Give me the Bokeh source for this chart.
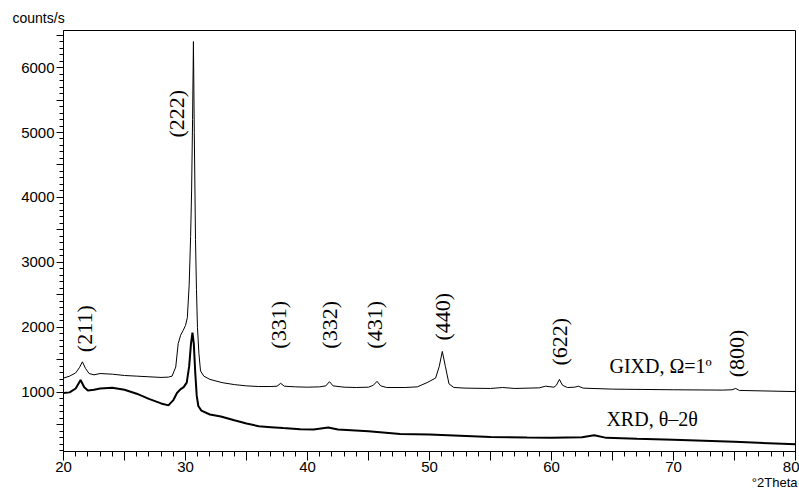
from math import pi
from bokeh.plotting import figure
from bokeh.models import Label, FixedTicker, Range1d, Title
from bokeh.embed import file_html
from bokeh.resources import INLINE

# ---- data ----
gixd_2theta = [20.0, 20.5, 21.0, 21.3, 21.55, 21.8, 22.1, 22.5, 23.0, 24.0, 25.0, 26.0, 27.0, 28.0,
               28.6, 28.9, 29.2, 29.4, 29.6, 29.8, 30.0, 30.15, 30.3, 30.42, 30.5, 30.58, 30.65,
               30.72, 30.82, 30.9, 30.98, 31.1, 31.23, 31.5, 32.0, 33.0, 34.0, 35.0, 36.0, 37.0,
               37.5, 37.8, 38.1, 39.0, 40.0, 41.0, 41.5, 41.8, 42.1, 43.0, 44.0, 45.0, 45.4, 45.7,
               46.0, 46.5, 48.0, 49.0, 49.8, 50.5, 50.8, 51.05, 51.3, 51.6, 52.0, 53.0, 55.0, 56.0,
               57.0, 59.0, 59.5, 60.2, 60.4, 60.65, 60.9, 61.3, 61.9, 62.2, 62.6, 65.0, 70.0, 74.0,
               74.8, 75.1, 75.4, 78.0, 80.0]
gixd_counts = [1220, 1250, 1300, 1380, 1470, 1370, 1290, 1270, 1290, 1280, 1260, 1250, 1240, 1230,
               1235, 1250, 1390, 1750, 1880, 1950, 2030, 2150, 2650, 3400, 4100, 5200, 6400,
               5000, 3350, 2580, 2000, 1600, 1330, 1250, 1200, 1150, 1120, 1100, 1090, 1090,
               1095, 1140, 1095, 1085, 1080, 1085, 1100, 1165, 1100, 1080, 1075, 1080, 1110, 1170,
               1100, 1075, 1075, 1085, 1150, 1220, 1400, 1630, 1400, 1130, 1075, 1065, 1060, 1075,
               1060, 1070, 1095, 1080, 1110, 1200, 1110, 1075, 1080, 1095, 1065, 1050, 1040, 1035,
               1040, 1060, 1030, 1020, 1012]

xrd_2theta = [20.0, 20.5, 21.0, 21.4, 21.7, 22.0, 22.5, 23.0, 24.0, 25.0, 26.0, 27.0, 28.0, 28.6,
              29.0, 29.3, 29.6, 29.85, 30.1, 30.3, 30.45, 30.57, 30.68, 30.8, 30.92, 31.05, 31.3,
              32.0, 32.9, 34.0, 35.0, 36.0, 37.0, 38.0, 39.4, 40.5, 41.7, 42.5, 45.0, 47.6, 50.0,
              55.0, 58.0, 60.0, 62.5, 63.5, 64.5, 67.0, 70.0, 75.0, 80.0]
xrd_counts = [990, 1000, 1060, 1190, 1080, 1030, 1040, 1060, 1070, 1040, 980, 900, 830, 800,
              880, 990, 1050, 1080, 1150, 1400, 1750, 1920, 1750, 1300, 950, 790, 720,
              660, 630, 570, 520, 480, 465, 450, 433, 430, 460, 430, 400, 360, 350,
              315, 305, 300, 310, 340, 300, 285, 270, 240, 200]

peak_labels = ["(211)", "(222)", "(331)", "(332)", "(431)", "(440)", "(622)", "(800)"]
peak_label_x = [21.7, 29.26, 37.6, 41.8, 45.5, 51.07, 60.66, 75.2]
peak_label_y = [1980, 5290, 2040, 2040, 2040, 2165, 1780, 1600]

x_major = [20, 25, 30, 35, 40, 45, 50, 55, 60, 65, 70, 75, 80]
x_minor = list(range(20, 81))
y_major = [500, 1000, 1500, 2000, 2500, 3000, 3500, 4000, 4500, 5000, 5500, 6000, 6500]
y_minor = list(range(100, 6600, 100))

p = figure(width=799, height=493, output_backend="svg", toolbar_location=None,
           x_range=Range1d(20, 80), y_range=Range1d(90, 6570),
           min_border_left=63, min_border_right=4, min_border_top=30, min_border_bottom=42)
p.grid.visible = False
p.background_fill_color = "white"
p.border_fill_color = "white"
p.outline_line_color = "black"
p.outline_line_width = 1

p.line(gixd_2theta, gixd_counts, line_color="black", line_width=1)
p.line(xrd_2theta, xrd_counts, line_color="black", line_width=2)

for ax in (p.xaxis[0], p.yaxis[0]):
    ax.axis_line_color = "black"
    ax.major_tick_line_color = "black"
    ax.minor_tick_line_color = "black"
    ax.major_tick_in = 0
    ax.minor_tick_in = 0
    ax.major_label_text_font = "Liberation Sans"
    ax.major_label_text_font_size = "15px"
    ax.major_label_text_color = "black"
    ax.major_label_standoff = 2

p.xaxis.ticker = FixedTicker(ticks=x_major, minor_ticks=x_minor)
p.xaxis.major_tick_out = 9
p.xaxis.minor_tick_out = 5
p.xaxis.major_label_standoff = 1
p.xaxis.major_label_overrides = {t: (str(t) if t % 10 == 0 else "") for t in x_major}

p.yaxis.ticker = FixedTicker(ticks=y_major, minor_ticks=y_minor)
p.yaxis.major_tick_out = 7
p.yaxis.minor_tick_out = 4
p.yaxis.major_label_overrides = {t: (str(t) if t % 1000 == 0 else "") for t in y_major}

for txt, lx, ly in zip(peak_labels, peak_label_x, peak_label_y):
    p.add_layout(Label(x=lx, y=ly, text=txt, angle=pi / 2, text_align="center",
                       text_baseline="middle", text_font="Liberation Serif",
                       text_font_size="22px", text_color="black"))

p.add_layout(Label(x=64.75, y=1400, text="GIXD,  \u03a9=1\u00ba", text_align="left",
                   text_baseline="middle", text_font="Liberation Serif",
                   text_font_size="20px", text_color="black"))
p.add_layout(Label(x=64.5, y=587, text="XRD, \u03b8\u20132\u03b8", text_align="left",
                   text_baseline="middle", text_font="Liberation Serif",
                   text_font_size="20px", text_color="black"))

top_title = Title(text="counts/s", align="left", offset=-51, text_font="Liberation Sans",
                  text_font_size="14px", text_font_style="normal", text_color="black",
                  standoff=9)
p.add_layout(top_title, "above")
bottom_title = Title(text="\u00b02Theta", align="right", offset=-2, text_font="Liberation Sans",
                     text_font_size="13px", text_font_style="normal", text_color="black",
                     standoff=0, vertical_align="top", text_line_height=0.7)
p.add_layout(bottom_title, "below")

open("out.html", "w").write(file_html(p, INLINE))
